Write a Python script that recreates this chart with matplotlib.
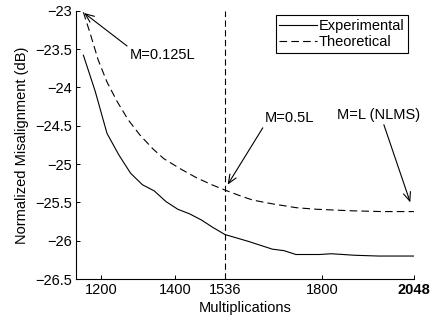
import numpy as np
import matplotlib
matplotlib.use("Agg")
import matplotlib.pyplot as plt

plt.rcParams['font.family'] = ['Liberation Sans', 'DejaVu Sans']
plt.rcParams['lines.scale_dashes'] = False

# -----------------------------
# Data
# -----------------------------
exp_x = [1152, 1184, 1216, 1248, 1280, 1312, 1344, 1376, 1408, 1440, 1472, 1504,
         1536, 1600, 1664, 1696, 1728, 1792, 1824, 1888, 1952, 2048]
exp_y = [-23.58, -24.05, -24.60, -24.88, -25.12, -25.27, -25.35, -25.49, -25.59,
         -25.65, -25.73, -25.83, -25.92, -26.01, -26.11, -26.13, -26.18, -26.18,
         -26.17, -26.19, -26.20, -26.20]

theo_x = [1152, 1170, 1192, 1216, 1243, 1273, 1305, 1340, 1370, 1414, 1459, 1500,
          1536, 1580, 1611, 1665, 1730, 1784, 1880, 1960, 2048]
theo_y = [-23.02, -23.29, -23.64, -23.93, -24.18, -24.42, -24.62, -24.80, -24.93,
          -25.06, -25.18, -25.27, -25.34, -25.42, -25.47, -25.52, -25.57, -25.59,
          -25.61, -25.62, -25.62]

xticks = [1200, 1400, 1536, 1800, 2048]
yticks = [-23, -23.5, -24, -24.5, -25, -25.5, -26, -26.5]

# -----------------------------
# Plot
# -----------------------------
fig = plt.figure(figsize=(4.33, 3.2), dpi=100)
ax = fig.add_axes([0.1755, 0.128, 0.7805, 0.8386])

ax.plot(exp_x, exp_y, color='black', lw=0.8, label='Experimental')
ax.plot(theo_x, theo_y, color='black', lw=0.8, linestyle=(0, (5.5, 3)), label='Theoretical')
ax.axvline(1536, color='black', lw=0.8, linestyle=(0, (4.5, 2.5)))

ax.set_xlim(1132, 2048)
ax.set_ylim(-26.5, -23)
ax.set_xticks(xticks)
ax.set_xticklabels([str(t) for t in xticks])
ax.set_yticks(yticks)
ax.set_yticklabels(['\u2212' + ('%g' % abs(t)) for t in yticks])
ax.get_xticklabels()[-1].set_fontweight('bold')

for side in ['top', 'right']:
    ax.spines[side].set_visible(False)
for side in ['left', 'bottom']:
    ax.spines[side].set_linewidth(0.8)
ax.tick_params(direction='in', length=3, width=0.7, labelsize=10.5, pad=3)

ax.set_xlabel('Multiplications', fontsize=10.5, labelpad=3)
ax.set_ylabel('Normalized Misalignment (dB)', fontsize=10.5, labelpad=4)

leg = ax.legend(loc='upper right', bbox_to_anchor=(0.983, 0.983), fontsize=10.5,
                fancybox=False, framealpha=1, edgecolor='black', handlelength=2.6,
                handletextpad=0.1, borderpad=0.25, labelspacing=0.15,
                borderaxespad=0)
leg.get_frame().set_linewidth(0.8)

def arrow(rel):
    return dict(arrowstyle='->,head_length=0.6,head_width=0.25', color='black',
                lw=0.8, shrinkA=0, shrinkB=0, relpos=rel)

ax.annotate('M=0.125L', xy=(1154, -23.03), xytext=(1278, -23.58),
            fontsize=10.5, va='center', ha='left', arrowprops=arrow((0, 1)))
ax.annotate('M=0.5L', xy=(1543, -25.27), xytext=(1643, -24.40),
            fontsize=10.5, va='center', ha='left', arrowprops=arrow((0, 0)))
ax.annotate('M=L (NLMS)', xy=(2038, -25.5), xytext=(1840, -24.36),
            fontsize=10.5, va='center', ha='left', arrowprops=arrow((0.55, 0)))

fig.savefig('out.png', dpi=100)
